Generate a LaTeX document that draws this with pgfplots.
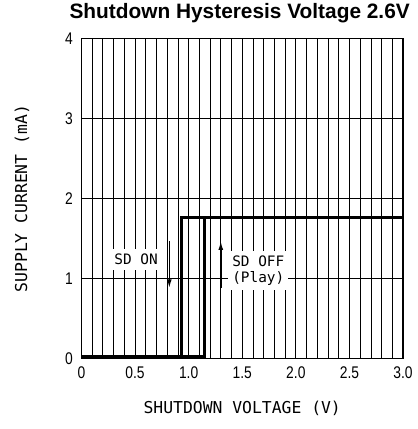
\documentclass[border=0pt]{standalone}
\usepackage{fontspec}
\usepackage{pgfplots}
\pgfplotsset{compat=1.18}
\usetikzlibrary{arrows.meta}
\setmainfont{Liberation Sans}
\newfontfamily\monof{DejaVu Sans Mono}
\newfontfamily\narrowf[FakeStretch=0.82]{Liberation Sans}
\begin{document}
\begin{tikzpicture}
\begin{axis}[name=ax,
  scale only axis, width=324pt, height=322pt,
  xmin=0, xmax=3, ymin=0, ymax=4,
  xtick={0,0.5,1,1.5,2,2.5,3},
  xticklabels={0,0.5,1.0,1.5,2.0,2.5,3.0},
  minor x tick num=4,
  ytick={0,1,2,3,4},
  yticklabels={0,1,2,3,4},
  major tick length=0pt, minor tick length=0pt,
  grid=both,
  major grid style={black, line width=0.8pt},
  minor grid style={black, line width=0.8pt},
  axis line style={black, line width=1.3pt},
  tick label style={font=\narrowf\fontsize{17}{17}\selectfont},
  /pgf/number format/assume math mode=true,
  xticklabel style={yshift=-5pt},
  yticklabel style={xshift=-5pt},
  xlabel={SHUTDOWN VOLTAGE (V)},
  ylabel={SUPPLY CURRENT (mA)},
  label style={font=\monof\fontsize{16.5}{16.5}\selectfont},
  xlabel style={at={(axis description cs:0.5,-0.155)}, anchor=center},
  ylabel style={at={(axis description cs:-0.185,0.5)}, anchor=center, rotate=0},
  title={Shutdown Hysteresis Voltage 2.6V},
  title style={font=\bfseries\fontsize{21}{21}\selectfont, at={(axis description cs:0.492,1.062)}, anchor=center},
]
\node[fill=white, inner xsep=2pt, inner ysep=5pt, font=\monof\fontsize{14.5}{14.5}\selectfont] at (axis cs:0.51,1.24) {SD ON};
\node[fill=white, inner xsep=4pt, inner ysep=4pt, align=center, font=\monof\fontsize{14.5}{17}\selectfont] at (axis cs:1.65,1.1) {SD OFF\\(Play)};
\draw[line width=1.5pt, -{Latex[length=9pt,width=5pt]}] (axis cs:0.82,1.47) -- (axis cs:0.82,0.88);
\draw[line width=1.5pt, -{Latex[length=9pt,width=5pt]}] (axis cs:1.30,0.88) -- (axis cs:1.30,1.47);
\addplot[black, line width=3pt, line join=miter] coordinates {(0,0.03) (0.935,0.03) (0.935,1.77) (3,1.77)};
\addplot[black, line width=3pt, line join=miter] coordinates {(0,0.03) (1.15,0.03) (1.15,1.77) (3,1.77)};
\end{axis}
\path ([shift={(-82pt,-71pt)}]ax.south west) rectangle ([shift={(15pt,36pt)}]ax.north east);
\end{tikzpicture}
\end{document}
